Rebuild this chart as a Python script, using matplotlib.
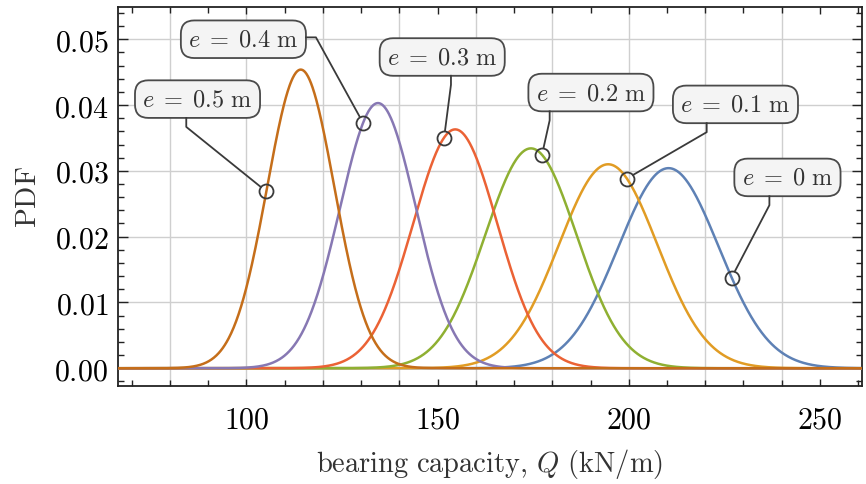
import numpy as np
import matplotlib
matplotlib.use("Agg")
import matplotlib.pyplot as plt
from matplotlib.ticker import MultipleLocator, FixedLocator, FuncFormatter
from matplotlib.lines import Line2D
from matplotlib.transforms import IdentityTransform

plt.rcParams['mathtext.fontset'] = 'cm'
plt.rcParams['font.family'] = ['DejaVu Serif']

# ---- data (normal distributions of bearing capacity) ----
eccentricities = ["0", "0.1", "0.2", "0.3", "0.4", "0.5"]
mean_Q = [210.4, 194.6, 174.4, 154.6, 134.4, 114.2]      # kN/m
std_Q = [13.12, 12.87, 11.94, 10.99, 9.90, 8.79]          # kN/m
colors = ["#5E81B5", "#E19C24", "#8FB032", "#EB6235", "#8778B3", "#C56E1A"]

# callout: point on curve (Q), label center (Q, PDF)
callout_Q = [226.9, 199.5, 177.3, 151.7, 130.5, 105.2]
label_Q = [241.5, 227.9, 190.1, 151.2, 99.2, 87.2]
label_pdf = [0.0290, 0.0401, 0.0419, 0.0473, 0.0500, 0.0409]
# leader anchor: side and fraction along that side
anchor_side = ["bottom", "bottom", "bottom", "bottom", "right", "bottom"]
anchor_frac = [0.33, 0.27, 0.17, 0.57, 0.45, 0.41]

x_ticks = [100, 150, 200, 250]
y_ticks = [0.00, 0.01, 0.02, 0.03, 0.04, 0.05]
x_grid = [80, 100, 120, 140, 160, 180, 200, 220, 240]

xmin, xmax = 66.4, 261.0
ymin, ymax = -0.0027, 0.0549


def pdf(q, m, s):
    return np.exp(-0.5 * ((q - m) / s) ** 2) / (s * np.sqrt(2 * np.pi))


fig = plt.figure(figsize=(8.66, 4.85), dpi=100)
ax = fig.add_axes([118 / 866, 1 - 387 / 485, (862 - 118) / 866, (387 - 8) / 485])

q = np.linspace(xmin, xmax, 1500)
for m, s, c in zip(mean_Q, std_Q, colors):
    ax.plot(q, pdf(q, m, s), color=c, lw=1.8, zorder=3, solid_capstyle='butt')

ax.set_xlim(xmin, xmax)
ax.set_ylim(ymin, ymax)

# grid
for gx in x_grid:
    ax.axvline(gx, color='#cfcfcf', lw=1.0, zorder=1)
for gy in y_ticks:
    ax.axhline(gy, color='#cfcfcf', lw=1.0, zorder=1)

# ticks
ax.xaxis.set_major_locator(FixedLocator(x_ticks))
ax.xaxis.set_minor_locator(MultipleLocator(10))
ax.yaxis.set_major_locator(FixedLocator(y_ticks))
ax.yaxis.set_minor_locator(MultipleLocator(0.002))
ax.xaxis.set_major_formatter(FuncFormatter(lambda v, p: r'$%d$' % v))
ax.yaxis.set_major_formatter(FuncFormatter(lambda v, p: r'$%.2f$' % v))
ax.tick_params(which='both', direction='in', top=True, right=True, color='#222222', width=1.0)
ax.tick_params(which='major', length=7, labelsize=21.5, pad=7)
ax.tick_params(axis='x', which='major', length=5, pad=14)
ax.tick_params(which='minor', length=4)
for sp in ax.spines.values():
    sp.set_linewidth(1.3)
    sp.set_color('#222222')

ax.set_xlabel(r'$\mathrm{bearing\ capacity,}\,Q\ \mathrm{(kN/m)}$', fontsize=20.5, color='#333333', labelpad=9)
ax.set_ylabel(r'$\mathrm{PDF}$', fontsize=21, color='#333333', labelpad=9)

# callouts
texts = []
for e, lq, lp in zip(eccentricities, label_Q, label_pdf):
    t = ax.text(lq, lp, r'$e\;=\;%s\ \mathrm{m}$' % e, fontsize=17.5, color='#333333',
                ha='center', va='center', zorder=6,
                bbox=dict(boxstyle='round,pad=0.3,rounding_size=0.55', fc='#f4f4f4',
                          ec='#4a4a4a', lw=1.3))
    texts.append(t)

fig.canvas.draw()
renderer = fig.canvas.get_renderer()
r_circ = 7.0
for i in range(len(eccentricities)):
    pq = callout_Q[i]
    pp = pdf(pq, mean_Q[i], std_Q[i])
    ax.plot([pq], [pp], marker='o', ms=2 * r_circ * 72 / 100, mfc='none', mec='#3a3a3a',
            mew=1.3, zorder=7)
    bb = texts[i].get_bbox_patch().get_window_extent(renderer)
    if anchor_side[i] == 'bottom':
        ax_ = bb.x0 + anchor_frac[i] * bb.width
        ay_ = bb.y0
        ex, ey = ax_, ay_ - 9
    else:
        ax_ = bb.x1
        ay_ = bb.y1 - anchor_frac[i] * bb.height
        ex, ey = ax_ + 10, ay_
    px, py = ax.transData.transform((pq, pp))
    dx, dy = px - ex, py - ey
    d = np.hypot(dx, dy)
    endx, endy = px - dx / d * r_circ, py - dy / d * r_circ
    line = Line2D([ax_, ex, endx], [ay_, ey, endy], transform=IdentityTransform(),
                  color='#3a3a3a', lw=1.3, zorder=5, solid_joinstyle='round')
    fig.add_artist(line)

fig.savefig('out.png', dpi=100)
